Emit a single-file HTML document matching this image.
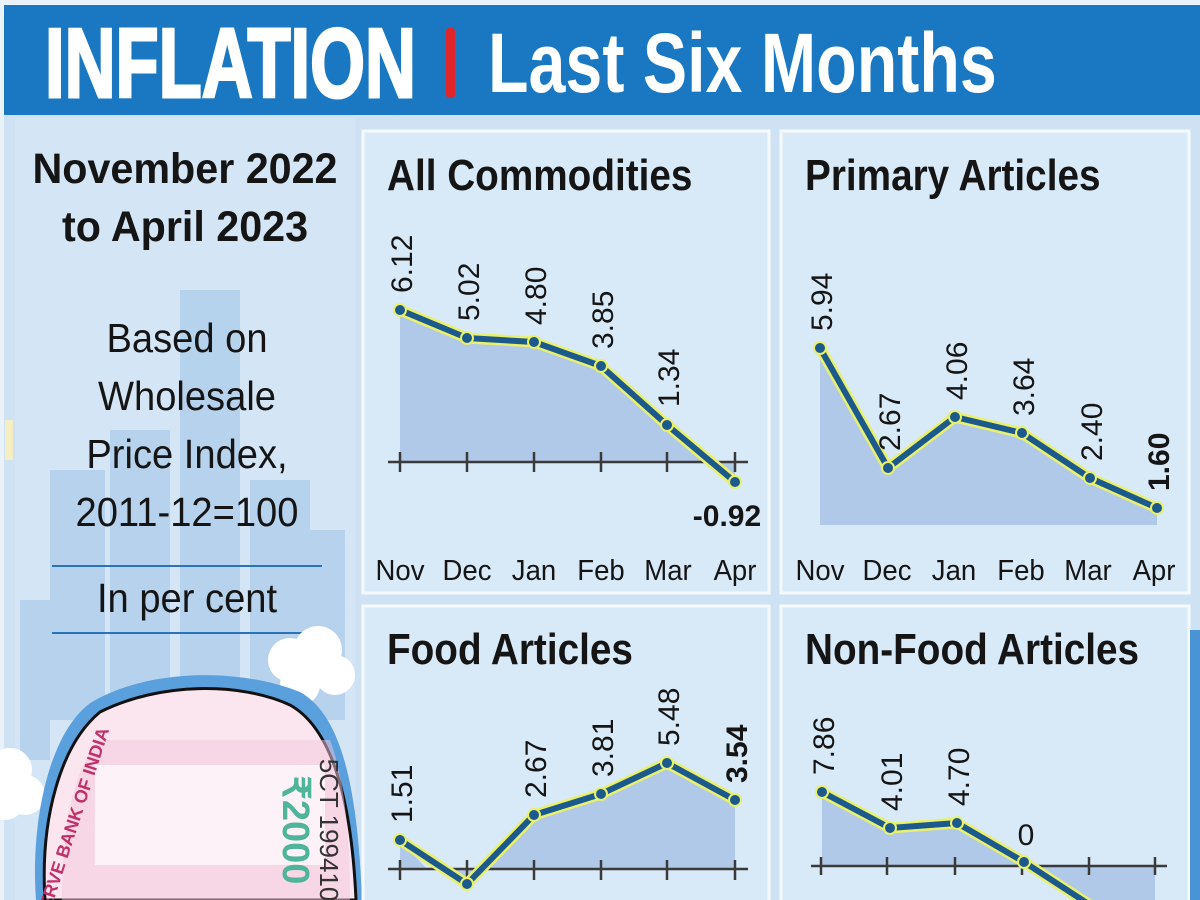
<!DOCTYPE html>
<html><head><meta charset="utf-8"><style>
html,body{margin:0;padding:0;background:#e6eef6;}
svg{display:block}
text{font-family:"Liberation Sans",sans-serif}
</style></head><body>
<svg width="1200" height="900" viewBox="0 0 1200 900" xmlns="http://www.w3.org/2000/svg">
<rect x="0" y="0" width="1200" height="900" fill="#e9f1f9"/>
<rect x="4" y="5" width="1196" height="110" fill="#1a78c2"/>
<g transform="translate(45,97) scale(0.72,1)"><text x="0" y="0" font-size="98" font-weight="bold" fill="#fff" stroke="#fff" stroke-width="3">INFLATION</text></g>
<rect x="446" y="28" width="9" height="70" rx="3" fill="#e0262b"/>
<g transform="translate(488,92) scale(0.79,1)"><text x="0" y="0" font-size="84" font-weight="bold" fill="#fff">Last Six Months</text></g>
<!-- background -->
<rect x="4" y="115" width="1196" height="785" fill="#cfe2f4"/>
<rect x="15" y="118" width="340" height="782" fill="#d4e6f6"/>
<!-- buildings -->
<g fill="#b3d0ec" opacity="0.9">
<rect x="180" y="290" width="60" height="420"/>
<rect x="110" y="430" width="60" height="290"/>
<rect x="50" y="470" width="55" height="250"/>
<rect x="250" y="480" width="60" height="240"/>
<rect x="300" y="530" width="45" height="190"/>
<rect x="20" y="600" width="30" height="160"/>
</g>
<rect x="5" y="420" width="8" height="40" fill="#f5eec0"/>
<!-- left text -->
<g font-weight="bold" fill="#151515" font-size="43">
<text transform="translate(185,183) scale(0.96,1)" text-anchor="middle">November 2022</text>
<text transform="translate(185,241) scale(0.96,1)" text-anchor="middle">to April 2023</text>
</g>
<g fill="#151515" font-size="41">
<text transform="translate(187,352) scale(0.93,1)" text-anchor="middle">Based on</text>
<text transform="translate(187,410) scale(0.93,1)" text-anchor="middle">Wholesale</text>
<text transform="translate(187,468) scale(0.93,1)" text-anchor="middle">Price Index,</text>
<text transform="translate(187,526) scale(0.93,1)" text-anchor="middle">2011-12=100</text>
<text transform="translate(187,612) scale(0.93,1)" text-anchor="middle">In per cent</text>
</g>
<line x1="52" y1="566" x2="322" y2="566" stroke="#2a73b8" stroke-width="2"/>
<line x1="52" y1="633" x2="322" y2="633" stroke="#2a73b8" stroke-width="2"/>
<!-- clouds -->
<g fill="#fff">
<circle cx="290" cy="660" r="22"/><circle cx="318" cy="650" r="24"/><circle cx="335" cy="675" r="20"/><circle cx="300" cy="685" r="20"/>
<circle cx="10" cy="770" r="22"/><circle cx="25" cy="795" r="20"/><circle cx="5" cy="800" r="20"/>
</g>
<!-- banknote -->
<path d="M36,900 C30,820 50,730 92,702 C150,668 240,668 300,692 C345,717 358,800 362,900 Z" fill="#5aa0dc"/>
<path d="M45,900 C40,820 60,745 100,712 C160,682 240,682 290,705 C335,730 352,810 356,900 Z" fill="#fbe6f0" stroke="#111" stroke-width="3"/>
<path d="M62,900 C62,830 72,770 100,740 L330,740 C345,780 350,840 350,900 Z" fill="#f3c5dc" opacity="0.5"/>
<rect x="95" y="765" width="230" height="100" fill="#fdf2f7"/>
<text transform="translate(283,830) rotate(90)" font-size="38" font-weight="bold" fill="#4fb59a" text-anchor="middle">₹2000</text>
<text transform="translate(320,830) rotate(90)" font-size="26" fill="#333" text-anchor="middle">5CT 199410</text>
<text transform="translate(80,820) rotate(-72)" font-size="18" font-weight="bold" fill="#c0306a" text-anchor="middle">ERVE BANK OF INDIA</text>
<!-- panels -->
<g fill="#d8e9f8" stroke="#f4f9fd" stroke-width="3">
<rect x="363" y="131" width="406" height="462"/>
<rect x="781" y="131" width="408" height="462"/>
<rect x="363" y="606" width="406" height="300"/>
<rect x="781" y="606" width="408" height="300"/>
</g>
<rect x="1190" y="630" width="10" height="270" fill="#4a93d4"/>
<g font-weight="bold" fill="#151515" font-size="44">
<text transform="translate(387,190) scale(0.88,1)">All Commodities</text>
<text transform="translate(805,190) scale(0.88,1)">Primary Articles</text>
<text transform="translate(387,664) scale(0.88,1)">Food Articles</text>
<text transform="translate(805,664) scale(0.88,1)">Non-Food Articles</text>
</g>
<!-- month labels -->
<g font-size="29" fill="#151515">
<g transform="translate(400,580) scale(0.95,1)"><text text-anchor="middle">Nov</text></g>
<g transform="translate(467,580) scale(0.95,1)"><text text-anchor="middle">Dec</text></g>
<g transform="translate(534,580) scale(0.95,1)"><text text-anchor="middle">Jan</text></g>
<g transform="translate(601,580) scale(0.95,1)"><text text-anchor="middle">Feb</text></g>
<g transform="translate(668,580) scale(0.95,1)"><text text-anchor="middle">Mar</text></g>
<g transform="translate(735,580) scale(0.95,1)"><text text-anchor="middle">Apr</text></g>
<g transform="translate(820,580) scale(0.95,1)"><text text-anchor="middle">Nov</text></g>
<g transform="translate(887,580) scale(0.95,1)"><text text-anchor="middle">Dec</text></g>
<g transform="translate(954,580) scale(0.95,1)"><text text-anchor="middle">Jan</text></g>
<g transform="translate(1021,580) scale(0.95,1)"><text text-anchor="middle">Feb</text></g>
<g transform="translate(1088,580) scale(0.95,1)"><text text-anchor="middle">Mar</text></g>
<g transform="translate(1154,580) scale(0.95,1)"><text text-anchor="middle">Apr</text></g>
</g>
<!-- All Commodities chart -->
<polygon points="400,310 467,338 534,342 601,366 667,425 712,462 400,462" fill="#b0c9e8"/>
<polygon points="712,462 735,482 735,462" fill="#b0c9e8"/>
<g stroke="#3a3a3a" stroke-width="2.5"><line x1="388" y1="462" x2="748" y2="462"/>
<line x1="400" y1="452" x2="400" y2="472"/><line x1="467" y1="452" x2="467" y2="472"/><line x1="534" y1="452" x2="534" y2="472"/><line x1="601" y1="452" x2="601" y2="472"/><line x1="667" y1="452" x2="667" y2="472"/><line x1="735" y1="452" x2="735" y2="472"/></g>
<polyline points="400,310 467,338 534,342 601,366 667,425 735,482" fill="none" stroke="#e9f06a" stroke-width="11" stroke-linejoin="round"/>
<polyline points="400,310 467,338 534,342 601,366 667,425 735,482" fill="none" stroke="#1c5a8e" stroke-width="6" stroke-linejoin="round"/>
<g fill="#1c5a8e" stroke="#e9f06a" stroke-width="2"><circle cx="400" cy="310" r="6"/><circle cx="467" cy="338" r="6"/><circle cx="534" cy="342" r="6"/><circle cx="601" cy="366" r="6"/><circle cx="667" cy="425" r="6"/><circle cx="735" cy="482" r="6"/></g>
<g font-size="30" fill="#151515">
<text transform="translate(412,293) rotate(-90)">6.12</text>
<text transform="translate(479,321) rotate(-90)">5.02</text>
<text transform="translate(546,325) rotate(-90)">4.80</text>
<text transform="translate(613,349) rotate(-90)">3.85</text>
<text transform="translate(679,407) rotate(-90)">1.34</text>
</g>
<text x="727" y="526" font-size="30" font-weight="bold" fill="#151515" text-anchor="middle">-0.92</text>
<!-- Primary chart -->
<polygon points="820,348 888,468 955,417 1022,433 1090,478 1157,508 1157,525 820,525" fill="#b0c9e8"/>
<polyline points="820,348 888,468 955,417 1022,433 1090,478 1157,508" fill="none" stroke="#e9f06a" stroke-width="11" stroke-linejoin="round"/>
<polyline points="820,348 888,468 955,417 1022,433 1090,478 1157,508" fill="none" stroke="#1c5a8e" stroke-width="6" stroke-linejoin="round"/>
<g fill="#1c5a8e" stroke="#e9f06a" stroke-width="2"><circle cx="820" cy="348" r="6"/><circle cx="888" cy="468" r="6"/><circle cx="955" cy="417" r="6"/><circle cx="1022" cy="433" r="6"/><circle cx="1090" cy="478" r="6"/><circle cx="1157" cy="508" r="6"/></g>
<g font-size="30" fill="#151515">
<text transform="translate(832,331) rotate(-90)">5.94</text>
<text transform="translate(900,451) rotate(-90)">2.67</text>
<text transform="translate(967,400) rotate(-90)">4.06</text>
<text transform="translate(1034,416) rotate(-90)">3.64</text>
<text transform="translate(1102,461) rotate(-90)">2.40</text>
<text transform="translate(1169,491) rotate(-90)" font-weight="bold">1.60</text>
</g>
<!-- Food chart -->
<polygon points="400,840 427,869 452,869 467,884 534,815 601,794 667,763 735,800 735,869 400,869" fill="#b0c9e8"/>
<g stroke="#3a3a3a" stroke-width="2.5"><line x1="388" y1="869" x2="748" y2="869"/>
<line x1="400" y1="860" x2="400" y2="880"/><line x1="467" y1="860" x2="467" y2="880"/><line x1="534" y1="860" x2="534" y2="880"/><line x1="601" y1="860" x2="601" y2="880"/><line x1="667" y1="860" x2="667" y2="880"/><line x1="735" y1="860" x2="735" y2="880"/></g>
<polyline points="400,840 467,884 534,815 601,794 667,763 735,800" fill="none" stroke="#e9f06a" stroke-width="11" stroke-linejoin="round"/>
<polyline points="400,840 467,884 534,815 601,794 667,763 735,800" fill="none" stroke="#1c5a8e" stroke-width="6" stroke-linejoin="round"/>
<g fill="#1c5a8e" stroke="#e9f06a" stroke-width="2"><circle cx="400" cy="840" r="6"/><circle cx="467" cy="884" r="6"/><circle cx="534" cy="815" r="6"/><circle cx="601" cy="794" r="6"/><circle cx="667" cy="763" r="6"/><circle cx="735" cy="800" r="6"/></g>
<g font-size="30" fill="#151515">
<text transform="translate(412,823) rotate(-90)">1.51</text>
<text transform="translate(546,798) rotate(-90)">2.67</text>
<text transform="translate(613,777) rotate(-90)">3.81</text>
<text transform="translate(679,746) rotate(-90)">5.48</text>
<text transform="translate(747,783) rotate(-90)" font-weight="bold">3.54</text>
</g>
<!-- Non-Food chart -->
<polygon points="822,792 890,828 957,823 1024,862 1024,866 822,866" fill="#b0c9e8"/>
<polygon points="1024,866 1090,910 1155,910 1155,866" fill="#b0c9e8"/>
<g stroke="#3a3a3a" stroke-width="2.5"><line x1="811" y1="866" x2="1167" y2="866"/>
<line x1="821" y1="857" x2="821" y2="875"/><line x1="887" y1="857" x2="887" y2="875"/><line x1="955" y1="857" x2="955" y2="875"/><line x1="1022" y1="857" x2="1022" y2="875"/><line x1="1089" y1="857" x2="1089" y2="875"/><line x1="1155" y1="857" x2="1155" y2="875"/></g>
<polyline points="822,792 890,828 957,823 1024,862 1090,905" fill="none" stroke="#e9f06a" stroke-width="11" stroke-linejoin="round"/>
<polyline points="822,792 890,828 957,823 1024,862 1090,905" fill="none" stroke="#1c5a8e" stroke-width="6" stroke-linejoin="round"/>
<g fill="#1c5a8e" stroke="#e9f06a" stroke-width="2"><circle cx="822" cy="792" r="6"/><circle cx="890" cy="828" r="6"/><circle cx="957" cy="823" r="6"/><circle cx="1024" cy="862" r="6"/></g>
<g font-size="30" fill="#151515">
<text transform="translate(834,775) rotate(-90)">7.86</text>
<text transform="translate(902,811) rotate(-90)">4.01</text>
<text transform="translate(969,806) rotate(-90)">4.70</text>
<text x="1026" y="845" text-anchor="middle">0</text>
</g>
</svg>
</body></html>
